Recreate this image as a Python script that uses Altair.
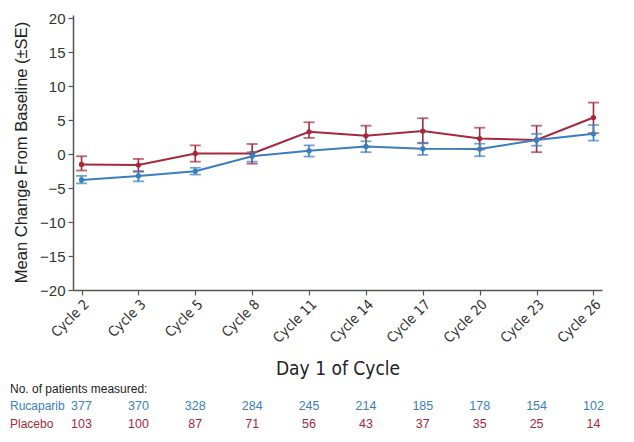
import altair as alt
import pandas as pd

cycles = ["Cycle 2", "Cycle 3", "Cycle 5", "Cycle 8", "Cycle 11",
          "Cycle 14", "Cycle 17", "Cycle 20", "Cycle 23", "Cycle 26"]

ruca_mean = [-3.8, -3.2, -2.5, -0.3, 0.5, 1.15, 0.8, 0.75, 2.1, 3.0]
ruca_lo = [-4.3, -4.0, -3.0, -1.1, -0.35, 0.3, -0.1, -0.3, 1.25, 2.0]
ruca_hi = [-3.2, -2.6, -2.0, 0.3, 1.3, 1.9, 1.7, 1.55, 3.0, 4.3]

plac_mean = [-1.5, -1.6, 0.1, 0.1, 3.3, 2.7, 3.4, 2.3, 2.1, 5.4]
plac_lo = [-2.4, -2.5, -1.1, -1.4, 2.4, 1.1, 1.6, 0.7, 0.3, 3.1]
plac_hi = [-0.3, -0.7, 1.3, 1.5, 4.7, 4.2, 5.3, 3.9, 4.2, 7.6]

ruca_n = [377, 370, 328, 284, 245, 214, 185, 178, 154, 102]
plac_n = [103, 100, 87, 71, 56, 43, 37, 35, 25, 14]

BLUE = "#3b7ebf"
RED = "#a6283c"
COND = "Liberation Sans Narrow, DejaVu Sans Condensed, Roboto Condensed, Liberation Sans, sans-serif"
SANS = "Liberation Sans, Helvetica, Arial, sans-serif"

rows = []
for s, m, lo, hi, n in [("Placebo", plac_mean, plac_lo, plac_hi, plac_n),
                        ("Rucaparib", ruca_mean, ruca_lo, ruca_hi, ruca_n)]:
    for i, c in enumerate(cycles):
        rows.append({"cycle": c, "series": s, "mean": m[i], "lo": lo[i],
                     "hi": hi[i], "n": n[i]})
df = pd.DataFrame(rows)

xenc = alt.X("cycle:N", sort=cycles,
             scale=alt.Scale(type="point", padding=0.15),
             axis=alt.Axis(title="Day 1 of Cycle", labelAngle=-45,
                           labelFont=COND, labelFontSize=14, labelColor="#333",
                           titleFont=COND, titleFontSize=19, titleFontWeight="normal",
                           titleColor="#222", titleY=78, titleBaseline="middle",
                           domainColor="#555", domainWidth=1.5, tickColor="#555",
                           tickSize=5, tickWidth=1.2, labelPadding=2))
yscale = alt.Scale(domain=[-20, 20.5], nice=False)
yaxis = alt.Axis(title="Mean Change From Baseline (±SE)", values=list(range(-20, 21, 5)),
                 grid=False, labelFont=SANS, labelFontSize=15, labelColor="#333",
                 titleFont=SANS, titleFontSize=16.5, titleFontWeight="normal",
                 titleColor="#222", titleX=-52, titleY=137, titleBaseline="middle",
                 domainColor="#555", domainWidth=1.5, tickColor="#555",
                 tickSize=5, tickWidth=1.2, labelPadding=3)

color = alt.Color("series:N", scale=alt.Scale(domain=["Rucaparib", "Placebo"],
                                              range=[BLUE, RED]), legend=None)

base = alt.Chart(df)

zero = alt.Chart(pd.DataFrame({"y": [0]})).mark_rule(
    color="black", strokeDash=[6, 4], strokeWidth=2
).encode(y=alt.Y("y:Q", scale=yscale, axis=yaxis),
         x=alt.value(0), x2=alt.X2(datum="Cycle 26"))

layers = [zero]
for s in ["Placebo", "Rucaparib"]:
    b = base.transform_filter(alt.datum.series == s)
    err = b.mark_rule(strokeWidth=1.6).encode(
        x=xenc, y=alt.Y("lo:Q", scale=yscale, axis=yaxis), y2="hi:Q", color=color)
    cap_lo = b.mark_tick(size=11, thickness=1.8).encode(
        x=xenc, y=alt.Y("lo:Q", scale=yscale, axis=yaxis), color=color)
    cap_hi = b.mark_tick(size=11, thickness=1.8).encode(
        x=xenc, y=alt.Y("hi:Q", scale=yscale, axis=yaxis), color=color)
    line = b.mark_line(strokeWidth=2).encode(
        x=xenc, y=alt.Y("mean:Q", scale=yscale, axis=yaxis), color=color)
    pts = b.mark_circle(size=28, opacity=1).encode(
        x=xenc, y=alt.Y("mean:Q", scale=yscale, axis=yaxis), color=color)
    layers += [err, cap_lo, cap_hi, line, pts]

ntxt_r = base.transform_filter(alt.datum.series == "Rucaparib").mark_text(
    font=SANS, fontSize=12.5, color=BLUE, baseline="middle", align="center"
).encode(x=xenc, y=alt.value(391), text="n:Q")
ntxt_p = base.transform_filter(alt.datum.series == "Placebo").mark_text(
    font=SANS, fontSize=12.5, color=RED, baseline="middle", align="center"
).encode(x=xenc, y=alt.value(409), text="n:Q")

lab_df = pd.DataFrame({"t": ["No. of patients measured:", "Rucaparib", "Placebo"],
                       "c": ["#222", BLUE, RED], "yy": [374, 391, 409]})
labels = alt.Chart(lab_df).mark_text(
    font=SANS, fontSize=12, align="left", baseline="middle"
).encode(x=alt.value(-63), y=alt.Y("yy:Q", scale=None), text="t:N",
         color=alt.Color("c:N", scale=None, legend=None))

chart = alt.layer(*layers, ntxt_r, ntxt_p, labels).properties(
    width=529, height=275,
    autosize=alt.AutoSizeParams(type="none"),
    padding={"left": 65, "top": 7, "right": 24, "bottom": 144},
    background="white"
).configure_view(stroke=None)

chart.save("out.html", embed_options={"renderer": "svg", "actions": False})
